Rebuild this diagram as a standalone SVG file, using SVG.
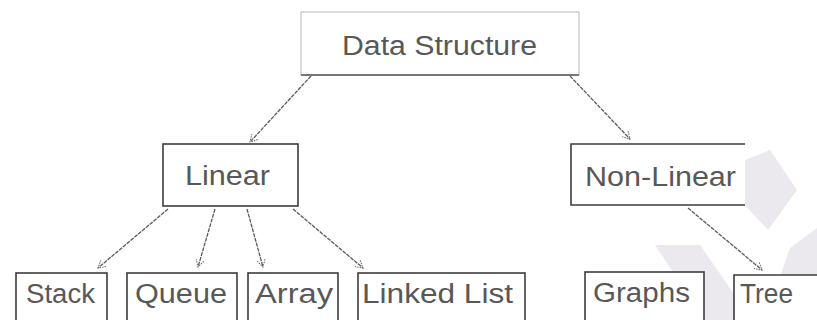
<svg xmlns="http://www.w3.org/2000/svg" width="817" height="320" viewBox="0 0 817 320">
  <defs>
    <style>
      .lbl { font-family: "Liberation Sans", Arial, sans-serif; font-size: 27px; fill: #585858; }
      .box { fill: #ffffff; stroke: #3c3c3c; stroke-width: 1.6; }
      .wm { fill: #ebe8ee; }
      .conn line { stroke: #5a5a5a; stroke-width: 1.3; stroke-dasharray: 4 1; }
    </style>
    <marker id="arr" markerWidth="10" markerHeight="10" refX="8" refY="5" orient="auto" markerUnits="userSpaceOnUse">
      <path d="M1,1 L8,5 L1,9" fill="none" stroke="#666666" stroke-width="1" stroke-dasharray="1.5 1"/>
    </marker>
  </defs>
  <rect width="817" height="320" fill="#ffffff"/>

  <g id="watermark">
    <polygon class="wm" points="745,160 770,150 797,190 768,230 745,205"/>
    <polygon class="wm" points="655,245 700,245 752,320 705,320"/>
    <polygon class="wm" points="790,248 817,228 817,292 797,320 765,320"/>
  </g>

  <g class="conn" id="connectors">
    <line x1="311" y1="76" x2="250" y2="142" marker-end="url(#arr)"/>
    <line x1="570" y1="76" x2="630" y2="139" marker-end="url(#arr)"/>
    <line x1="168" y1="209" x2="98" y2="268" marker-end="url(#arr)"/>
    <line x1="215" y1="209" x2="198" y2="267" marker-end="url(#arr)"/>
    <line x1="247" y1="209" x2="263" y2="267" marker-end="url(#arr)"/>
    <line x1="293" y1="209" x2="363" y2="268" marker-end="url(#arr)"/>
    <line x1="688" y1="208" x2="762" y2="270" marker-end="url(#arr)"/>
  </g>

  <g id="data-structure">
    <rect x="301" y="12" width="278" height="63" fill="#ffffff" stroke="#c4c4c4" stroke-width="1.2"/>
    <line x1="301" y1="75" x2="579" y2="75" stroke="#555555" stroke-width="1.4"/>
    <text class="lbl" x="342" y="55" textLength="195" lengthAdjust="spacingAndGlyphs">Data Structure</text>
  </g>

  <g id="linear">
    <rect class="box" x="163" y="144" width="135" height="62"/>
    <text class="lbl" x="185" y="185" textLength="85" lengthAdjust="spacingAndGlyphs">Linear</text>
  </g>

  <g id="non-linear">
    <rect x="571" y="144" width="174" height="61" fill="#ffffff" stroke="none"/>
    <polyline points="745,144 571,144 571,205 745,205" fill="none" stroke="#3c3c3c" stroke-width="1.6"/>
    <text class="lbl" x="585" y="186" textLength="151" lengthAdjust="spacingAndGlyphs">Non-Linear</text>
  </g>

  <g id="stack">
    <rect class="box" x="16" y="273" width="91" height="60"/>
    <text class="lbl" x="26" y="303" textLength="69" lengthAdjust="spacingAndGlyphs">Stack</text>
  </g>

  <g id="queue">
    <rect class="box" x="127" y="273" width="110" height="60"/>
    <text class="lbl" x="135" y="303" textLength="92" lengthAdjust="spacingAndGlyphs">Queue</text>
  </g>

  <g id="array">
    <rect class="box" x="248" y="273" width="90" height="60"/>
    <text class="lbl" x="255" y="303" textLength="78" lengthAdjust="spacingAndGlyphs">Array</text>
  </g>

  <g id="linked-list">
    <rect class="box" x="358" y="273" width="167" height="60"/>
    <text class="lbl" x="362" y="303" textLength="151" lengthAdjust="spacingAndGlyphs">Linked List</text>
  </g>

  <g id="graphs">
    <rect class="box" x="585" y="272" width="119" height="60"/>
    <text class="lbl" x="593" y="302" textLength="97" lengthAdjust="spacingAndGlyphs">Graphs</text>
  </g>

  <g id="tree">
    <rect x="734" y="275" width="90" height="60" fill="#ffffff" stroke="none"/>
    <polyline points="734,335 734,275 817,275" fill="none" stroke="#3c3c3c" stroke-width="1.6"/>
    <text class="lbl" x="740" y="303" textLength="53" lengthAdjust="spacingAndGlyphs">Tree</text>
  </g>
</svg>
